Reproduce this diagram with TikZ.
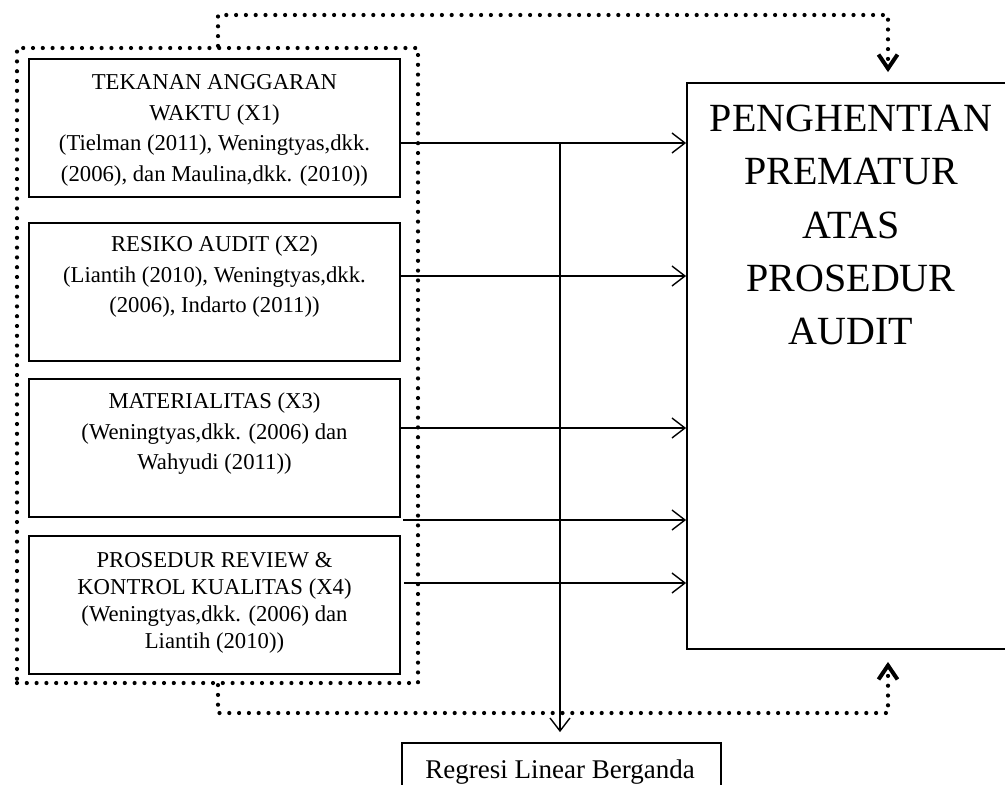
\documentclass[tikz,border=0pt]{standalone}
\usepackage{fontspec}
\setmainfont{Liberation Serif}
\usetikzlibrary{arrows.meta}
\tikzset{
  box/.style={draw, line width=1.8pt, rectangle, inner sep=0pt},
  txt/.style={align=center, inner sep=0pt, font=\fontsize{22.7}{30.5}\selectfont},
  arr/.style={line width=1.4pt, -{Straight Barb[length=13pt,width=20pt,line width=1.4pt]}},
  dots/.style={line width=4.2pt, line cap=round, dash pattern=on 0pt off 9.8pt},
  dotarr/.style={dots, -{Straight Barb[length=14pt,width=19pt,line width=4pt]}},
}
\begin{document}
\begin{tikzpicture}[x=1pt,y=-1pt]
\clip (0,0) rectangle (1005,785);
\fill[white] (0,0) rectangle (1005,785);
% outer dotted group
\node[dots, draw, rectangle, minimum width=401pt, minimum height=635pt, inner sep=0pt] (grp) at (217.5,365.5) {};
% input boxes
\node[box, minimum width=371pt, minimum height=138pt] (x1) at (214.5,128) {};
\node[txt] (x1t) at (214.5,130.5) {TEKANAN ANGGARAN\\WAKTU (X1)\\(Tielman (2011), Weningtyas,dkk.\\(2006), dan Maulina,dkk. (2010))};
\node[box, minimum width=371pt, minimum height=138pt] (x2) at (214.5,292) {};
\node[txt] (x2t) at (214.5,277) {RESIKO AUDIT (X2)\\(Liantih (2010), Weningtyas,dkk.\\(2006), Indarto (2011))};
\node[box, minimum width=371pt, minimum height=138pt] (x3) at (214.5,448) {};
\node[txt] (x3t) at (214.5,434) {MATERIALITAS (X3)\\(Weningtyas,dkk. (2006) dan\\Wahyudi (2011))};
\node[box, minimum width=371pt, minimum height=138pt] (x4) at (214.5,605) {};
\node[txt, font=\fontsize{22.7}{27}\selectfont] (x4t) at (214.5,602.5) {PROSEDUR REVIEW \&\\KONTROL KUALITAS (X4)\\(Weningtyas,dkk. (2006) dan\\Liantih (2010))};
% dependent box
\node[box, minimum width=340pt, minimum height=566pt] (big) at (857,366) {};
\node[align=center, inner sep=0pt, font=\fontsize{40}{53.3}\selectfont] (bigt) at (851,225) {PENGHENTIAN\\PREMATUR\\ATAS\\PROSEDUR\\AUDIT};
% regression box
\node[box, minimum width=319pt, minimum height=70pt] (reg) at (561.5,778) {};
\node[anchor=base, inner sep=0pt, font=\fontsize{27}{30}\selectfont] (regt) at (560,778) {Regresi Linear Berganda};
% arrows
\draw[arr] (x1.east |- 0,143) -- (big.west |- 0,143);
\draw[arr] (x2.east |- 0,276) -- (big.west |- 0,276);
\draw[arr] (x3.east |- 0,428) -- (big.west |- 0,428);
\coordinate (gap) at (403,520);
\draw[arr] (gap) -- (big.west |- gap);
\draw[arr] (x4.east |- 0,583) ++(3,0) -- (big.west |- 0,583);
\coordinate (split) at (560,143);
\draw[arr, shorten >=10pt] (split) -- (split |- reg.north);
% dotted feedback connectors
\coordinate (ttop) at (218,15);
\coordinate (btop) at (218,713);
\draw[dotarr] (grp.north -| ttop) -- (ttop) -| ([yshift=10pt]big.north -| 888,0);
\draw[dotarr] (grp.south -| btop) -- (btop) -| ([yshift=-12pt]big.south -| 888,0);
\end{tikzpicture}
\end{document}
